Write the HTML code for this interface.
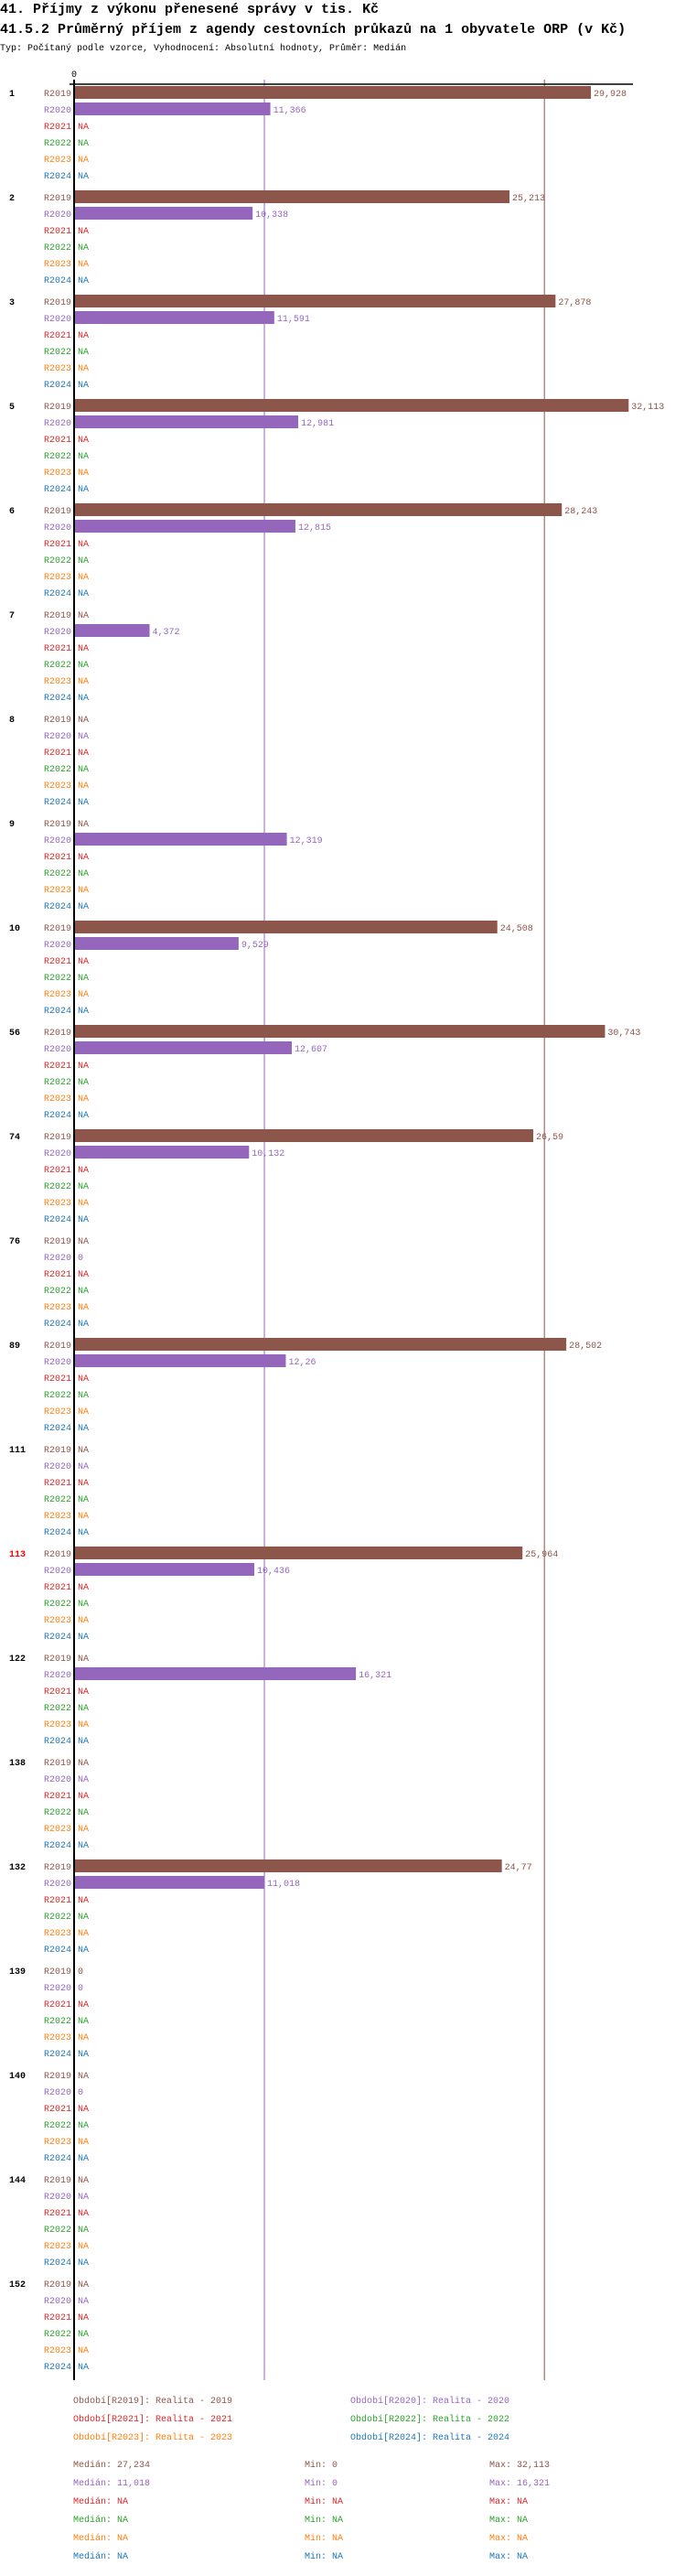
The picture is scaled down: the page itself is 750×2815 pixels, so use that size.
<!DOCTYPE html>
<html><head><meta charset="utf-8"><style>
body{margin:0;background:#fff;}
svg text{font-family:"Liberation Mono",monospace;}
</style></head><body>
<svg id="c" width="750" height="2810" xmlns="http://www.w3.org/2000/svg">
<text x="0" y="14" font-size="15" font-weight="bold">41. Příjmy z výkonu přenesené správy v tis. Kč</text>
<text x="0" y="36" font-size="15" font-weight="bold">41.5.2 Průměrný příjem z agendy cestovních průkazů na 1 obyvatele ORP (v Kč)</text>
<text x="0" y="55" font-size="10">Typ: Počítaný podle vzorce, Vyhodnocení: Absolutní hodnoty, Průměr: Medián</text>
<g id="plot"></g>
</svg>
<script>
const groups=["1","2","3","5","6","7","8","9","10","56","74","76","89","111","113","122","138","132","139","140","144","152"];
const series=["R2019","R2020","R2021","R2022","R2023","R2024"];
const v2019=[29.928,25.213,27.878,32.113,28.243,null,null,null,24.508,30.743,26.59,null,28.502,null,25.964,null,null,24.77,0,null,null,null];
const v2020=[11.366,10.338,11.591,12.981,12.815,4.372,null,12.319,9.529,12.607,10.132,0,12.26,null,10.436,16.321,null,11.018,0,0,null,null];
const medians=[27.234,11.018,null,null,null,null];
const mins=[0,0,null,null,null,null];
const maxs=[32.113,16.321,null,null,null,null];
const highlight="113";
const colors=["#8c564b","#9467bd","#d62728","#2ca02c","#ff7f0e","#1f77b4"];
const NS="http://www.w3.org/2000/svg";
const g=document.getElementById("plot");
const X0=81,K=18.88;
const x=v=>X0+v*K;
const groupY=i=>101+114*i;
const rowY=(i,j)=>groupY(i)+18*j;
function el(tag,attrs,txt){const e=document.createElementNS(NS,tag);for(const k in attrs)e.setAttribute(k,attrs[k]);if(txt!==undefined)e.textContent=txt;g.appendChild(e);return e;}
const fmt=v=>v===null?"NA":String(v).replace(".",",");
const vals=[v2019,v2020,groups.map(()=>null),groups.map(()=>null),groups.map(()=>null),groups.map(()=>null)];
const axisBottom=rowY(groups.length-1,5)+16;
// median lines
medians.forEach((m,j)=>{if(m===null)return;
 const l=el("line",{x1:x(m),x2:x(m),y1:87,y2:axisBottom,stroke:colors[j],"stroke-width":1});
 
 });
groups.forEach((gn,i)=>{
 const t=el("text",{x:10,y:groupY(i)+4,"font-size":10,"font-weight":"bold",fill:gn===highlight?"#ff0000":"#000"},gn);
 
 
 series.forEach((s,j)=>{
  const cy=rowY(i,j);
  const lab=el("text",{x:78,y:cy+4,"font-size":10,fill:colors[j],"text-anchor":"end"},s);
  
  
  const v=vals[j][i];
  let tx=85;
  if(v!==null&&v>0){
   const r=el("rect",{x:X0,y:cy-7,width:x(v)-X0,height:14,fill:colors[j]});
   
   
   tx=x(v)+3;
  }
  const vt=el("text",{x:tx,y:cy+4,"font-size":10,fill:colors[j]},fmt(v));
  
  
 });
});
// axes
const ax=el("line",{x1:76,x2:692,y1:92,y2:92,stroke:"#000","stroke-width":1.5});


const zl=el("line",{x1:X0,x2:X0,y1:87,y2:axisBottom,stroke:"#000","stroke-width":2});


const zt=el("text",{x:X0,y:84,"font-size":10,"text-anchor":"middle"},"0");


// legend
series.forEach((s,j)=>{
 const lx=j%2===0?80:383, ly=2626+20*Math.floor(j/2);
 const t=el("text",{x:lx,y:ly,"font-size":10,fill:colors[j]},"Období["+s+"]: Realita - "+s.slice(1));
 
 
});
series.forEach((s,j)=>{
 const ly=2696+20*j;
 const a=el("text",{x:80,y:ly,"font-size":10,fill:colors[j]},"Medián: "+fmt(medians[j]));
 
 
 const b=el("text",{x:333,y:ly,"font-size":10,fill:colors[j]},"Min: "+fmt(mins[j]));
 
 
 const c=el("text",{x:535,y:ly,"font-size":10,fill:colors[j]},"Max: "+fmt(maxs[j]));
 
 
});
</script>
</body></html>
